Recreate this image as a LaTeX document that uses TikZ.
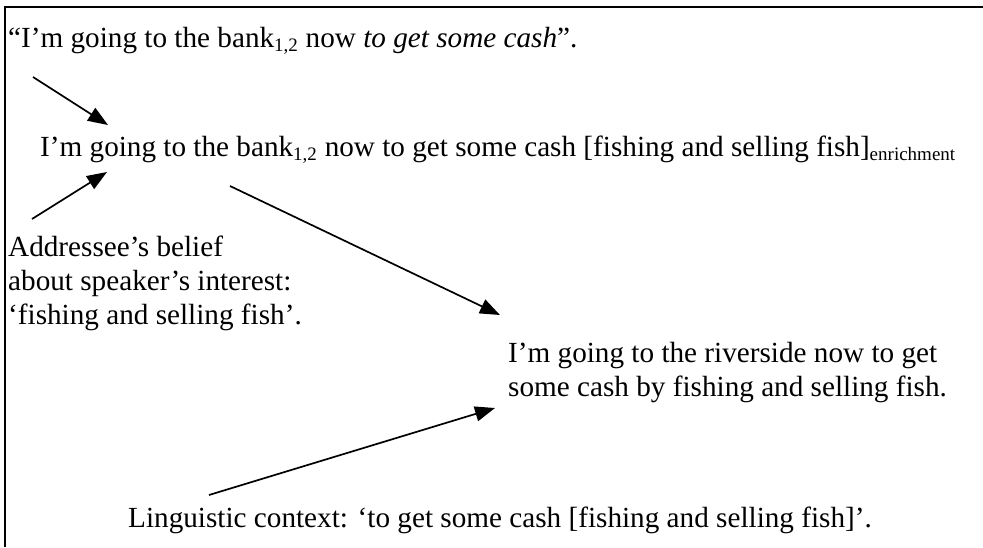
\documentclass[tikz,border=0pt]{standalone}
\usepackage{fontspec}
\setmainfont{Liberation Serif}
\usetikzlibrary{arrows.meta}

\newcommand{\lowtext}[1]{\textsubscript{\fontsize{19}{19}\selectfont #1}}

\tikzset{
  txt/.style={anchor=base west,inner sep=0pt,align=left,font=\fontsize{29.2}{34}\selectfont},
  arr/.style={-{Triangle[length=20pt,width=15pt]},line width=1.7pt}
}

\begin{document}
\begin{tikzpicture}[x=1pt,y=-1pt]
      \useasboundingbox (0,0) rectangle (983,547);
      \draw[line width=2pt] (5,547) -- (5,7) -- (983,7);
      % the utterance and its readings
      \node[txt] (utter) at (8,47) {“I’m going to the bank\lowtext{1,2} now \textit{to get some cash}”.};
      \node[txt] (enrich) at (40,156) {I’m going to the bank\lowtext{1,2} now to get some cash [fishing and selling fish]\lowtext{enrichment}};
      \node[txt] (belief) at (8,324) {Addressee’s belief\\about speaker’s interest:\\‘fishing and selling fish’.};
      \node[txt] (result) at (508,396) {I’m going to the riverside now to get\\some cash by fishing and selling fish.};
      \node[txt] (ling) at (128,527) {Linguistic context: ‘to get some cash [fishing and selling fish]’.};
      % arrow ends
      \coordinate (a1) at (33,77);
      \coordinate (b1) at (108,125);
      \coordinate (a2) at (32,219);
      \coordinate (b2) at (107,172);
      \coordinate (a3) at (230,186);
      \coordinate (b3) at (500,315);
      \coordinate (a4) at (209,495);
      \coordinate (b4) at (495,408);
      \foreach \s/\e in {a1/b1,a2/b2,a3/b3,a4/b4} {\draw[arr] (\s) -- (\e);}
   \end{tikzpicture}
\end{document}
